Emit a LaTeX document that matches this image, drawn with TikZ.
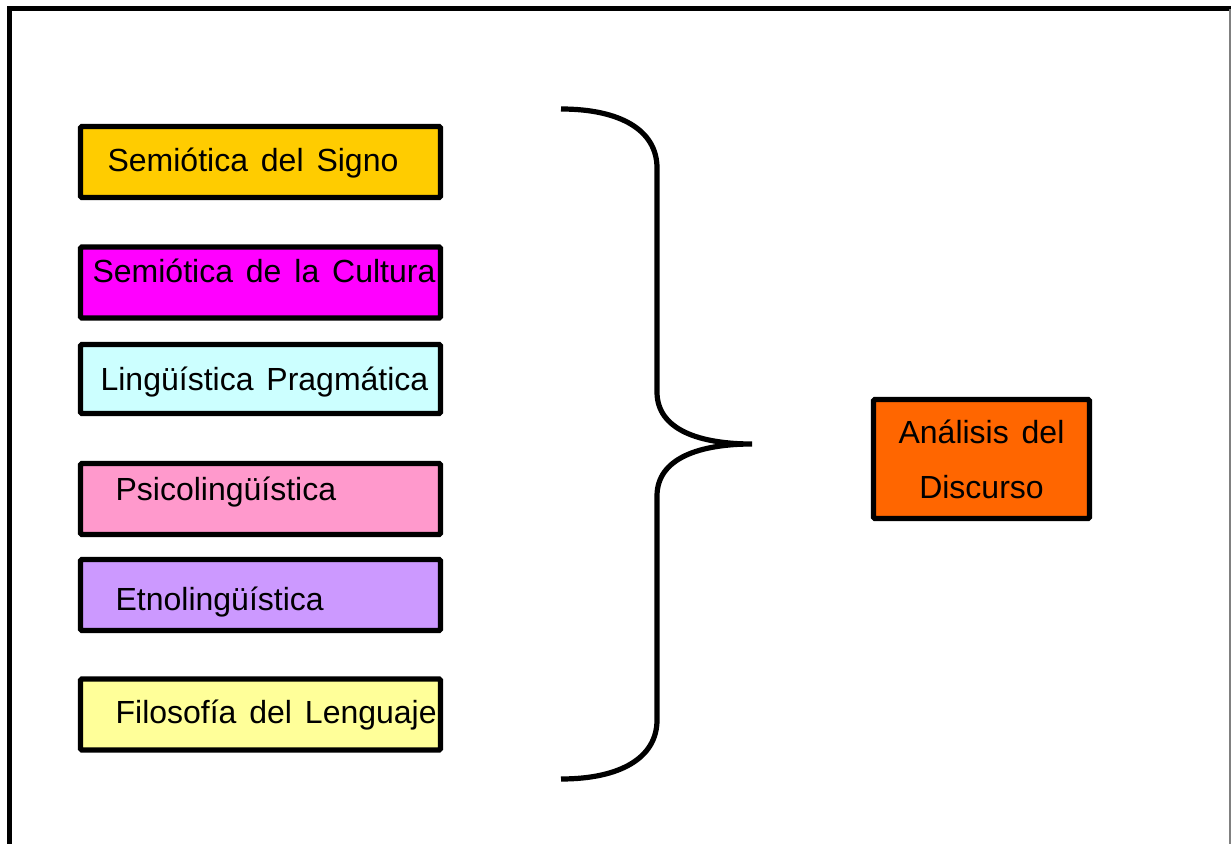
\documentclass[tikz,border=0pt]{standalone}
\usepackage{fontspec}
\setmainfont{Liberation Sans}[WordSpace=1.45]
\usepackage{tikz}

\definecolor{signo}{HTML}{FFCC00}
\definecolor{cultura}{HTML}{FF00FF}
\definecolor{pragma}{HTML}{CCFFFF}
\definecolor{psico}{HTML}{FF99CC}
\definecolor{etno}{HTML}{CC99FF}
\definecolor{filo}{HTML}{FFFF99}
\definecolor{discurso}{HTML}{FF6600}

\begin{document}
\begin{tikzpicture}[
		x=0.5pt, y=-0.5pt,
		every node/.style={rectangle, draw, line width=2.6pt, rounded corners=0.6pt, inner sep=0pt},
		box/.style={minimum width=180pt, minimum height=35.5pt},
		txt/.style={draw=none, anchor=west, font=\fontsize{16}{19}\selectfont}
	]
  \useasboundingbox (0,0) rectangle (1231,844);
  \draw [line width=2.6pt] (9.5,850) -- (9.5,8.5) -- (1231,8.5);
  \draw [gray, line width=0.6pt] (1230,9) -- (1230,844);

  \node (s1) [box, fill=signo] at (260.5,162) {};
  \node (s2) [box, fill=cultura] at (260.5,282.5) {};
  \node (s3) [box, fill=pragma, minimum height=34.5pt] at (260.5,379) {};
  \node (s4) [box, fill=psico] at (260.5,499) {};
  \node (s5) [box, fill=etno] at (260.5,595) {};
  \node (s6) [box, fill=filo] at (260.5,714.5) {};

  \node (t1) [txt] at (105,163) {Semiótica del Signo};
  \node (t2) [txt] at (90,271) {Semiótica de la Cultura};
  \node (t3) [txt] at (98,382) {Lingüística Pragmática};
  \node (t4) [txt] at (113,492) {Psicolingüística};
  \node (t5) [txt] at (113,602) {Etnolingüística};
  \node (t6) [txt] at (113,715) {Filosofía del Lenguaje};

  \node (ad) [fill=discurso, minimum width=108pt, minimum height=59.5pt, align=center,
    font=\fontsize{16}{27.5}\selectfont] at (981.5,459) {Análisis del\\Discurso};

  \coordinate (btop) at (561,109);
  \coordinate (tip) at (752,444);
  \coordinate (bbot) at (561,779);
  \draw [line width=2.6pt] (btop) .. controls (620,109) and (657,130) .. (657,168)
    -- (657,392) .. controls (657,430) and (700,444) .. (tip)
    .. controls (700,444) and (657,458) .. (657,496)
    -- (657,720) .. controls (657,758) and (620,779) .. (bbot);
\end{tikzpicture}
\end{document}
